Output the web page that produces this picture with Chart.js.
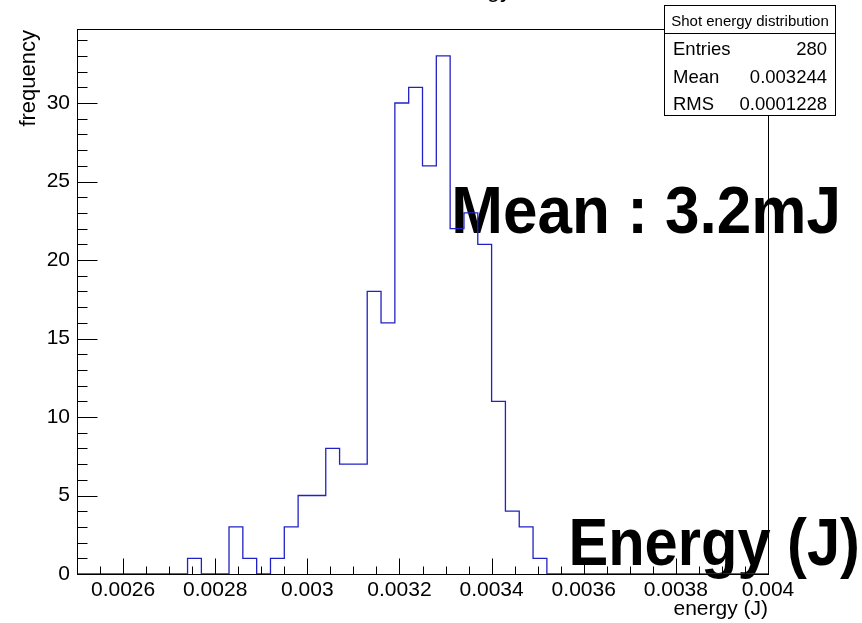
<!DOCTYPE html>
<html>
<head>
<meta charset="utf-8">
<script src="https://cdn.jsdelivr.net/npm/chart.js@4/dist/chart.umd.min.js"></script>
<style>
  html, body { margin: 0; padding: 0; background: #ffffff; }
  #wrap { width: 862px; height: 623px; position: relative; }
</style>
</head>
<body>
<div id="wrap"><canvas id="c" width="862" height="623"></canvas></div>
<script>
// Histogram binning: 50 bins between xMin and xMax
const xMin = 0.0025;
const xMax = 0.004;
const binWidth = 0.00003;

// Counts per bin (bin 0 starts at xMin)
const counts = [
  0, 0, 0, 0, 0, 0, 0, 0, 1, 0,
  0, 3, 1, 0, 1, 3, 5, 5, 8, 7,
  7, 18, 16, 30, 31, 26, 33, 22, 23, 21,
  11, 4, 3, 1, 0, 0, 0, 0, 0, 0,
  0, 0, 0, 0, 0, 0, 0, 0, 0, 0
];

// Axis ticks
const xTickValues = [0.0026, 0.0028, 0.003, 0.0032, 0.0034, 0.0036, 0.0038, 0.004];
const xTickLabels = ['0.0026', '0.0028', '0.003', '0.0032', '0.0034', '0.0036', '0.0038', '0.004'];
const xMinorStep = 0.00005;
const yTickValues = [0, 5, 10, 15, 20, 25, 30];
const yTickLabels = ['0', '5', '10', '15', '20', '25', '30'];
const yMinorStep = 1;
const yMax = 34.65;

// Statistics box
const statsTitle = 'Shot energy distribution';
const statsNames = ['Entries', 'Mean', 'RMS'];
const statsValues = ['280', '0.003244', '0.0001228'];

// Texts
const histTitle = 'Shot energy';
const xTitle = 'energy (J)';
const yTitle = 'frequency';
const noteMean = 'Mean : 3.2mJ';
const noteAxis = 'Energy (J)';

// Step outline: one point per lower bin edge carrying that bin's count
// across to the next edge; closed at xMax on zero
const outline = counts.map((c, i) => ({ x: xMin + i * binWidth, y: c }));
outline.push({ x: xMax, y: 0 });

const FONT = '"Liberation Sans", Arial, Helvetica, sans-serif';

function drawFitted(ctx, text, left, right, baseline, size) {
  ctx.save();
  ctx.font = 'bold ' + size + 'px ' + FONT;
  ctx.textAlign = 'left';
  ctx.textBaseline = 'alphabetic';
  const m = ctx.measureText(text);
  const inkLeft = -m.actualBoundingBoxLeft;
  const inkW = m.actualBoundingBoxRight + m.actualBoundingBoxLeft;
  const sx = (right - left) / inkW;
  ctx.translate(left, baseline);
  ctx.scale(sx, 1);
  ctx.fillStyle = '#000000';
  ctx.fillText(text, -inkLeft, 0);
  ctx.restore();
}

const rootStyle = {
  id: 'rootStyle',
  beforeDatasetsDraw(chart) {
    const ctx = chart.ctx;
    drawFitted(ctx, noteMean, 455, 837, 233, 67);
    drawFitted(ctx, noteAxis, 572, 857, 565, 67);
  },
  afterDatasetsDraw(chart) {
    const ctx = chart.ctx;
    const a = chart.chartArea;
    const xs = chart.scales.x, ys = chart.scales.y;
    ctx.save();
    ctx.strokeStyle = '#000000';
    ctx.lineWidth = 1;
    const L = Math.round(a.left) + 0.5, R = Math.round(a.right) + 0.5;
    const T = Math.round(a.top) - 0.5, B = Math.round(a.bottom) + 0.5;
    ctx.beginPath();
    // x ticks (pointing up into the frame)
    for (let v = xMin + xMinorStep; v < xMax + 1e-12; v += xMinorStep) {
      const px = Math.round(xs.getPixelForValue(v)) + 0.5;
      const isMajor = xTickValues.some(t => Math.abs(t - v) < 1e-9);
      ctx.moveTo(px, B);
      ctx.lineTo(px, B - (isMajor ? 16 : 8));
    }
    // y ticks (pointing right into the frame)
    for (let v = 0; v <= yMax; v += yMinorStep) {
      const py = Math.round(ys.getPixelForValue(v)) + 0.5;
      const isMajor = yTickValues.includes(v);
      ctx.moveTo(L, py);
      ctx.lineTo(L + (isMajor ? 20 : 10), py);
    }
    ctx.stroke();
    ctx.strokeRect(L, T, R - L, B - T);
    ctx.restore();
  },
  afterDraw(chart) {
    const ctx = chart.ctx;
    const a = chart.chartArea;
    ctx.save();
    ctx.fillStyle = '#000000';
    // axis titles
    ctx.font = '21px ' + FONT;
    ctx.textAlign = 'right';
    ctx.textBaseline = 'alphabetic';
    ctx.fillText(xTitle, a.right, 615);
    ctx.save();
    ctx.translate(35, a.top);
    ctx.rotate(-Math.PI / 2);
    ctx.textAlign = 'right';
    ctx.font = '22px ' + FONT;
    ctx.fillText(yTitle, 0, 0);
    ctx.restore();

    // histogram title, sitting above the canvas top
    ctx.font = '24px ' + FONT;
    ctx.textAlign = 'right';
    ctx.fillText(histTitle, 512, -3);

    // statistics box
    const bx = 664.5, by = 5.5, bw = 171, bh = 110, hdr = 28;
    ctx.fillStyle = '#ffffff';
    ctx.fillRect(bx, by, bw, bh);
    ctx.strokeStyle = '#000000';
    ctx.lineWidth = 1;
    ctx.strokeRect(bx, by, bw, bh);
    ctx.beginPath();
    ctx.moveTo(bx, by + hdr);
    ctx.lineTo(bx + bw, by + hdr);
    ctx.stroke();
    ctx.fillStyle = '#000000';
    ctx.font = '15px ' + FONT;
    ctx.textAlign = 'center';
    ctx.fillText(statsTitle, bx + bw / 2, 26);
    ctx.font = '18.5px ' + FONT;
    statsNames.forEach((n, i) => {
      const base = 55 + i * 27.5;
      ctx.textAlign = 'left';
      ctx.fillText(n, 673, base);
      ctx.textAlign = 'right';
      ctx.fillText(statsValues[i], 827, base);
    });
    ctx.restore();
  }
};

new Chart(document.getElementById('c'), {
  type: 'line',
  data: {
    datasets: [{
      data: outline,
      stepped: 'before',
      borderColor: '#2222c4',
      borderWidth: 1.3,
      pointRadius: 0,
      fill: false,
      tension: 0
    }]
  },
  options: {
    responsive: false,
    animation: false,
    devicePixelRatio: 1,
    layout: { padding: { left: 0, top: 30, right: 94, bottom: 0 } },
    plugins: { legend: { display: false }, tooltip: { enabled: false }, title: { display: false } },
    scales: {
      x: {
        type: 'linear',
        min: xMin,
        max: xMax,
        afterBuildTicks(scale) { scale.ticks = xTickValues.map(v => ({ value: v })); },
        afterFit(scale) { scale.height = 49; },
        grid: { display: false, drawTicks: false },
        border: { display: false },
        ticks: {
          autoSkip: false,
          maxRotation: 0,
          minRotation: 0,
          padding: 4,
          color: '#000000',
          font: { family: FONT, size: 21 },
          callback: (v, i) => xTickLabels[i]
        }
      },
      y: {
        type: 'linear',
        min: 0,
        max: yMax,
        afterBuildTicks(scale) { scale.ticks = yTickValues.map(v => ({ value: v })); },
        afterFit(scale) { scale.width = 77; },
        grid: { display: false, drawTicks: false },
        border: { display: false },
        ticks: {
          autoSkip: false,
          padding: 7,
          color: '#000000',
          font: { family: FONT, size: 21 },
          callback: (v, i) => yTickLabels[i]
        }
      }
    }
  },
  plugins: [rootStyle]
});
</script>
</body>
</html>
